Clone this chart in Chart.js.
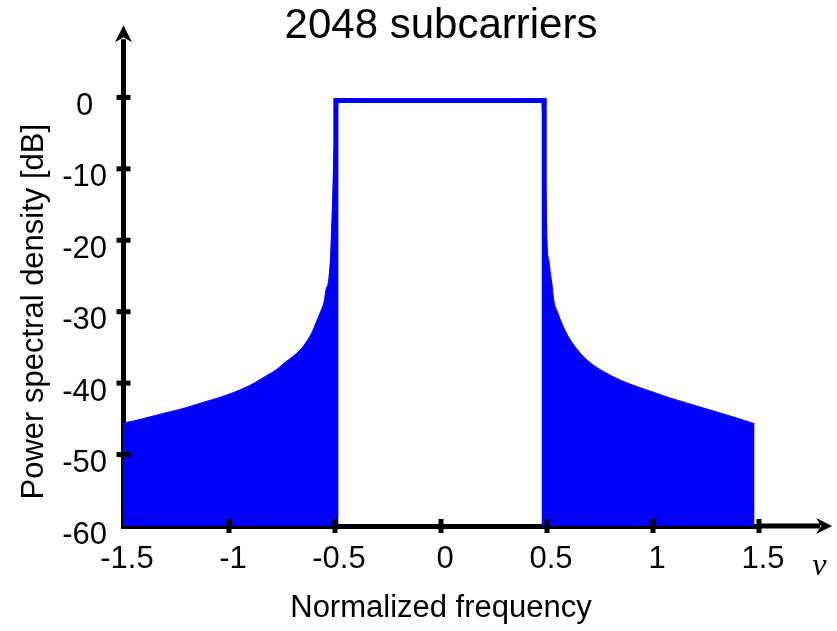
<!DOCTYPE html>
<html lang="pt-BR">
<head>
<meta charset="UTF-8">
<title>2048 subcarriers</title>
<script src="https://cdn.jsdelivr.net/npm/chart.js@4/dist/chart.umd.min.js"></script>
<style>
    html, body { margin: 0; padding: 0; background: #fff; }
    canvas { display: block; }
</style>
</head>
<body>
<canvas id="psdChart" width="837" height="631"></canvas>
<script>
// --- Dados ---

// Lóbulos laterais à esquerda (envoltória do espectro, em dB)
const freqEsquerda = [-1.5, -1.449, -1.37, -1.291, -1.21, -1.134, -1.055, -0.977, -0.9, -0.859, -0.82, -0.78, -0.74, -0.709, -0.68, -0.654, -0.63, -0.607, -0.585, -0.568, -0.55, -0.543, -0.53, -0.521, -0.518, -0.512, -0.505, -0.485];
const psdEsquerda  = [-45.6, -45.3, -44.7, -44.1, -43.5, -42.8, -42.1, -41.3, -40.3, -39.6, -38.9, -38.2, -37.2, -36.5, -35.8, -35.0, -34.0, -32.8, -31.2, -30.0, -28.4, -27.0, -25.6, -22.3, -20.0, -15, -8, -0.45];

// Lóbulos laterais à direita
const freqDireita = [0.476, 0.495, 0.501, 0.509, 0.516, 0.525, 0.532, 0.549, 0.564, 0.588, 0.611, 0.651, 0.69, 0.729, 0.768, 0.847, 0.926, 1.005, 1.083, 1.162, 1.24, 1.319, 1.397, 1.479];
const psdDireita  = [-0.45, -14, -20.9, -22.8, -24.6, -26.5, -28.4, -30.0, -31.2, -32.8, -34.0, -35.6, -36.8, -37.7, -38.4, -39.6, -40.5, -41.3, -42.1, -42.8, -43.5, -44.2, -44.9, -45.7];

// Banda ocupada (retângulo)
const freqBanda = [-0.496, -0.496, 0.487, 0.487];
const psdBanda  = [-60, -0.45, -0.45, -60];

// Marcas dos eixos
const xTicks = [-1.5, -1, -0.5, 0, 0.5, 1, 1.5];
const xTickLabels = ['-1.5', '-1', '-0.5', '0', '0.5', '1', '1.5'];
const yTicks = [-60, -50, -40, -30, -20, -10, 0];
const yTickLabels = ['-60', '-50', '-40', '-30', '-20', '-10', '0'];

const AZUL = '#0000ff';
const FONTE = "'Liberation Sans', Arial, sans-serif";

const paraPontos = (xs, ys) => xs.map((x, i) => ({ x: x, y: ys[i] }));

// --- Plugin: setas dos eixos, tracinhos e símbolo ν ---
const eixosComSetas = {
    id: 'eixosComSetas',
    afterDraw(chart) {
        const { ctx, scales: { x, y } } = chart;
        const x0 = x.getPixelForValue(-1.5);
        const y0 = y.getPixelForValue(-60);
        const topo = y.getPixelForValue(10.1);
        const fim = x.getPixelForValue(1.845);

        ctx.save();
        ctx.fillStyle = '#000';
        ctx.strokeStyle = '#000';
        ctx.lineWidth = 5;

        // prolongamento dos eixos
        ctx.beginPath();
        ctx.moveTo(x0 + 0.5, y.getPixelForValue(0));
        ctx.lineTo(x0 + 0.5, topo + 14);
        ctx.moveTo(x.getPixelForValue(1.5), y0);
        ctx.lineTo(fim - 12, y0);
        ctx.stroke();

        // ponta vertical
        ctx.beginPath();
        ctx.moveTo(x0 + 0.5, topo);
        ctx.lineTo(x0 + 9, topo + 17);
        ctx.lineTo(x0 + 0.5, topo + 12);
        ctx.lineTo(x0 - 8, topo + 17);
        ctx.closePath();
        ctx.fill();

        // ponta horizontal
        ctx.beginPath();
        ctx.moveTo(fim, y0);
        ctx.lineTo(fim - 16, y0 - 8);
        ctx.lineTo(fim - 11, y0);
        ctx.lineTo(fim - 16, y0 + 8);
        ctx.closePath();
        ctx.fill();

        // tracinhos que cruzam os eixos
        yTicks.filter(v => v !== -60).forEach(v => {
            const py = y.getPixelForValue(v);
            ctx.fillRect(x0 - 6.5, py - 2.5, 14, 5);
        });
        xTicks.filter(v => v !== -1.5).forEach(v => {
            const px = x.getPixelForValue(v);
            ctx.fillRect(px - 2.5, y0 - 7, 5, 14);
        });

        // rótulo ν
        ctx.font = "italic 32px 'Liberation Serif', 'DejaVu Serif', serif";
        ctx.textAlign = 'center';
        ctx.textBaseline = 'alphabetic';
        ctx.fillText('ν', x.getPixelForValue(1.785), y0 + 49);
        ctx.restore();
    }
};

// --- Gráfico ---
Chart.defaults.font.family = FONTE;
Chart.defaults.color = '#000';

const ctx = document.getElementById('psdChart').getContext('2d');
new Chart(ctx, {
    type: 'line',
    data: {
        datasets: [
            {
                label: 'Banda',
                data: paraPontos(freqBanda, psdBanda),
                borderColor: AZUL,
                borderWidth: 5,
                borderJoinStyle: 'miter',
                pointRadius: 0,
                fill: false,
                tension: 0
            },
            {
                label: 'Lóbulos esquerda',
                data: paraPontos(freqEsquerda, psdEsquerda),
                borderColor: AZUL,
                borderWidth: 1,
                backgroundColor: AZUL,
                pointRadius: 0,
                fill: { value: -60 },
                cubicInterpolationMode: 'monotone'
            },
            {
                label: 'Lóbulos direita',
                data: paraPontos(freqDireita, psdDireita),
                borderColor: AZUL,
                borderWidth: 1,
                backgroundColor: AZUL,
                pointRadius: 0,
                fill: { value: -60 },
                cubicInterpolationMode: 'monotone'
            }
        ]
    },
    options: {
        responsive: false,
        animation: false,
        events: [],
        layout: { padding: { left: 0, right: 78, top: 0, bottom: 0 } },
        plugins: {
            legend: { display: false },
            tooltip: { enabled: false },
            title: {
                display: true,
                text: '2048 subcarriers',
                fullSize: false,
                color: '#000',
                font: { size: 42, weight: 'normal', family: FONTE },
                padding: { top: 1, bottom: 46 }
            }
        },
        scales: {
            x: {
                type: 'linear',
                min: -1.5,
                max: 1.5,
                z: 1,
                afterFit: (scale) => { scale.height = 105; },
                afterBuildTicks: (scale) => { scale.ticks = xTicks.map(v => ({ value: v })); },
                grid: { display: false, drawTicks: false },
                border: { display: true, color: '#000', width: 5 },
                ticks: {
                    padding: 15,
                    labelOffset: 4,
                    maxRotation: 0,
                    autoSkip: false,
                    font: { size: 31 },
                    callback: (valor, i) => xTickLabels[i]
                },
                title: {
                    display: true,
                    text: 'Normalized frequency',
                    font: { size: 31 },
                    padding: { top: 0, bottom: 4 }
                }
            },
            y: {
                type: 'linear',
                min: -60,
                max: 0,
                z: 1,
                afterFit: (scale) => { scale.width = 123; },
                afterBuildTicks: (scale) => { scale.ticks = yTicks.map(v => ({ value: v })); },
                grid: { display: false, drawTicks: false },
                border: { display: true, color: '#000', width: 5 },
                ticks: {
                    padding: 16,
                    labelOffset: 9,
                    crossAlign: 'center',
                    autoSkip: false,
                    font: { size: 31 },
                    callback: (valor, i) => yTickLabels[i]
                },
                title: {
                    display: true,
                    text: 'Power spectral density [dB]',
                    font: { size: 31 },
                    padding: { top: 16, bottom: 0 }
                }
            }
        }
    },
    plugins: [eixosComSetas]
});
</script>
</body>
</html>
